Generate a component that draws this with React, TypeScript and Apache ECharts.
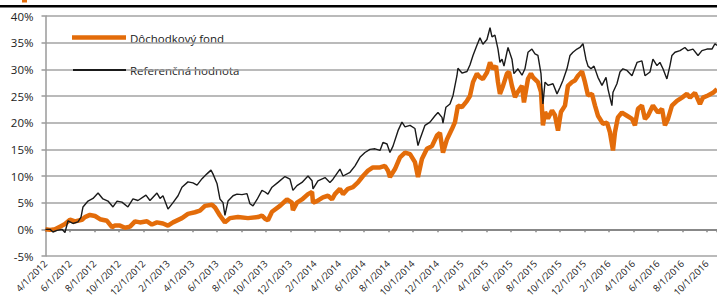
import React, { useEffect, useRef } from "react";
import * as echarts from "echarts";

// x = months since 4/1/2012, y = cumulative return in %
const fundMonths = [0, 0.37, 0.78, 1.18, 1.59, 2.0, 2.41, 2.98, 3.22, 3.63, 4.04, 4.45, 5.02, 5.43, 5.67, 6.08, 6.49, 6.9, 7.31, 7.71, 8.29, 8.69, 9.1, 9.59, 10.0, 10.41, 11.14, 11.63, 12.2, 12.61, 13.02, 13.59, 13.84, 14.24, 14.65, 15.06, 15.71, 16.53, 17.35, 17.67, 17.92, 18.16, 18.49, 19.14, 19.71, 20.12, 20.2, 20.53, 20.94, 21.43, 21.76, 21.84, 22.16, 22.65, 23.06, 23.39, 23.63, 24.04, 24.29, 24.69, 25.1, 25.51, 25.92, 26.33, 26.73, 27.31, 27.71, 27.96, 28.12, 28.53, 28.94, 29.35, 29.76, 30.16, 30.41, 30.73, 31.14, 31.55, 31.96, 32.2, 32.45, 32.78, 33.18, 33.43, 33.67, 34.0, 34.41, 34.65, 34.9, 35.22, 35.47, 35.71, 36.04, 36.29, 36.53, 36.78, 36.94, 37.1, 37.35, 37.67, 37.84, 38.08, 38.33, 38.57, 38.9, 39.06, 39.39, 39.63, 39.8, 40.2, 40.45, 40.61, 40.78, 41.02, 41.35, 41.59, 41.84, 42.08, 42.41, 42.65, 42.98, 43.22, 43.47, 43.8, 44.04, 44.29, 44.61, 44.86, 45.1, 45.51, 45.84, 46.08, 46.33, 46.49, 46.73, 47.06, 47.47, 47.88, 48.12, 48.37, 48.69, 48.94, 49.18, 49.59, 50.0, 50.33, 50.57, 50.82, 51.14, 51.55, 51.96, 52.37, 52.61, 53.02, 53.43, 53.67, 54.08, 54.49, 54.82];
const fundValues = [0, -0.1, 0, 0.5, 1.0, 1.8, 1.5, 1.8, 2.3, 2.7, 2.5, 1.9, 1.6, 0.4, 0.7, 0.7, 0.3, 0.5, 1.5, 1.3, 1.5, 0.9, 1.3, 1.1, 0.7, 1.3, 2.1, 2.9, 3.2, 3.5, 4.4, 4.6, 4.1, 2.6, 1.3, 2.1, 2.3, 2.1, 2.3, 2.6, 2.0, 1.7, 3.3, 4.4, 5.6, 5.0, 3.6, 5.0, 5.6, 6.6, 7.0, 5.0, 5.3, 6.0, 6.3, 5.6, 6.6, 7.6, 6.6, 7.6, 7.9, 8.8, 10.0, 11.0, 11.6, 11.6, 11.9, 11.0, 9.8, 11.3, 13.5, 14.4, 14.1, 12.6, 9.8, 13.2, 15.1, 15.6, 17.6, 18.1, 14.4, 16.9, 18.8, 20.1, 23.2, 22.9, 24.1, 25.0, 27.6, 29.2, 28.5, 28.2, 29.4, 31.3, 30.1, 30.6, 27.6, 25.4, 26.9, 29.2, 29.5, 26.9, 24.8, 25.8, 26.9, 23.8, 28.2, 29.2, 28.5, 27.6, 25.8, 19.5, 22.0, 20.8, 22.3, 21.4, 18.5, 22.0, 23.2, 26.9, 27.6, 27.9, 28.8, 29.6, 27.6, 25.1, 25.4, 23.2, 21.3, 19.8, 20.0, 18.2, 14.8, 18.2, 21.0, 21.9, 21.3, 20.7, 19.5, 22.6, 23.2, 20.7, 21.3, 23.2, 21.9, 22.6, 19.5, 20.7, 23.2, 24.1, 24.7, 25.4, 24.7, 25.6, 23.5, 24.7, 25.1, 25.6, 26.3];

const benchMonths = [0, 0.37, 0.61, 0.94, 1.35, 1.59, 1.84, 2.24, 2.65, 2.9, 3.06, 3.47, 3.88, 4.29, 4.69, 5.1, 5.51, 5.84, 6.24, 6.73, 7.14, 7.55, 8.2, 8.53, 9.1, 9.35, 9.59, 10.0, 10.41, 10.82, 11.14, 11.63, 12.04, 12.37, 12.78, 13.18, 13.51, 13.67, 14.0, 14.24, 14.49, 14.65, 14.9, 15.31, 15.63, 16.04, 16.45, 16.69, 16.94, 17.27, 17.67, 17.92, 18.16, 18.49, 18.98, 19.55, 19.96, 20.2, 20.53, 20.94, 21.43, 21.76, 21.84, 22.24, 22.82, 23.22, 23.47, 24.04, 24.29, 24.86, 25.27, 25.67, 26.08, 26.49, 26.9, 27.31, 27.55, 27.88, 28.12, 28.37, 28.78, 29.1, 29.35, 29.76, 30.16, 30.41, 30.57, 30.98, 31.39, 31.8, 32.04, 32.37, 32.45, 32.69, 33.02, 33.27, 33.59, 33.67, 34.0, 34.41, 34.65, 34.9, 35.22, 35.47, 35.71, 36.04, 36.29, 36.45, 36.69, 36.94, 37.1, 37.27, 37.43, 37.67, 37.76, 38.08, 38.24, 38.57, 38.9, 39.14, 39.39, 39.71, 39.96, 40.2, 40.45, 40.61, 40.78, 41.02, 41.43, 41.76, 42.0, 42.24, 42.57, 42.82, 43.06, 43.39, 43.63, 43.88, 44.12, 44.29, 44.53, 44.78, 45.1, 45.43, 45.76, 45.92, 46.24, 46.33, 46.65, 46.9, 47.14, 47.47, 47.88, 48.29, 48.69, 48.94, 49.35, 49.59, 49.92, 50.16, 50.41, 50.73, 50.98, 51.14, 51.39, 51.8, 52.2, 52.45, 52.86, 53.27, 53.59, 54.0, 54.41, 54.65, 54.82];
const benchValues = [0, 0, -0.5, -0.2, 0, -0.6, 1.6, 1.1, 1.4, 2.3, 4.2, 5.3, 5.8, 6.8, 5.7, 5.3, 4.2, 5.3, 5.1, 4.2, 5.7, 5.4, 6.4, 5.4, 6.8, 5.8, 6.3, 3.8, 5.0, 6.3, 7.9, 8.9, 8.7, 8.3, 9.5, 10.4, 11.1, 10.4, 8.6, 5.7, 5.0, 2.6, 5.3, 6.3, 6.6, 6.5, 6.7, 4.8, 4.4, 5.6, 7.3, 7.0, 6.6, 7.9, 8.8, 9.9, 9.4, 7.3, 8.2, 8.8, 10.0, 9.1, 7.6, 9.1, 9.7, 8.8, 9.4, 11.3, 10.0, 10.7, 11.9, 13.5, 14.4, 15.0, 15.1, 14.8, 16.3, 16.0, 14.4, 15.6, 18.5, 20.1, 19.2, 19.5, 18.9, 15.7, 16.9, 19.5, 20.1, 21.3, 21.9, 21.0, 19.9, 22.9, 23.5, 25.1, 28.8, 30.2, 29.3, 29.6, 30.8, 32.6, 34.5, 35.9, 34.7, 35.6, 37.8, 36.1, 36.4, 33.8, 31.3, 31.9, 30.6, 33.2, 34.1, 31.9, 29.2, 30.1, 28.9, 30.1, 33.2, 33.8, 32.9, 32.6, 29.2, 23.5, 27.6, 27.0, 27.3, 25.4, 26.6, 27.9, 30.1, 32.6, 33.2, 33.8, 34.1, 34.8, 31.9, 30.6, 30.1, 30.6, 28.5, 27.0, 28.5, 26.3, 23.2, 25.7, 27.3, 29.5, 30.1, 29.8, 28.8, 31.3, 31.6, 28.8, 29.5, 31.9, 30.7, 31.3, 30.1, 28.2, 30.7, 32.6, 33.2, 33.5, 34.1, 33.5, 33.8, 32.6, 33.5, 33.8, 33.8, 34.8, 34.5];

const xTickLabels = ["4/1/2012", "6/1/2012", "8/1/2012", "10/1/2012", "12/1/2012", "2/1/2013", "4/1/2013", "6/1/2013", "8/1/2013", "10/1/2013", "12/1/2013", "2/1/2014", "4/1/2014", "6/1/2014", "8/1/2014", "10/1/2014", "12/1/2014", "2/1/2015", "4/1/2015", "6/1/2015", "8/1/2015", "10/1/2015", "12/1/2015", "2/1/2016", "4/1/2016", "6/1/2016", "8/1/2016", "10/1/2016"];

const seriesNames = ["Dôchodkový fond", "Referenčná hodnota"];

const FONT = "Open Sans";
const ORANGE = "#E36C0A";
const DARK = "#1a1a1a";

export default function App() {
  const ref = useRef<HTMLDivElement>(null);
  useEffect(() => {
    if (!ref.current) return;
    const chart = echarts.init(ref.current, undefined, { renderer: "svg" });
    const fundData = fundMonths.map((m, i) => [m, fundValues[i]]);
    const benchData = benchMonths.map((m, i) => [m, benchValues[i]]);
    const labelFor = (v: number) => {
      const r = Math.round(v);
      if (Math.abs(v - r) > 1e-6 || r % 2 !== 0) return "";
      return xTickLabels[r / 2] ?? "";
    };
    const legendText = (y: number, text: string) => ({
      type: "text",
      x: 130,
      y,
      style: { text, fontFamily: FONT, fontSize: 11.5, fill: DARK, textVerticalAlign: "middle", verticalAlign: "middle" },
    });
    chart.setOption({
      animation: false,
      grid: { left: 45.5, right: 0, top: 16, bottom: 48, outerBoundsMode: "none" },
      xAxis: [
        {
          type: "value",
          min: 0,
          max: 54.82,
          interval: 2,
          axisLine: { show: true, onZero: true, lineStyle: { color: "#888888", width: 2 } },
          axisTick: { show: true, length: 3, inside: false, lineStyle: { color: "#888888", width: 1.5 } },
          axisLabel: { show: false },
          splitLine: { show: false },
        },
        {
          type: "value",
          position: "bottom",
          min: 0,
          max: 54.82,
          interval: 2,
          axisLine: { show: false, onZero: false },
          axisTick: { show: false },
          splitLine: { show: false },
          axisLabel: {
            show: true,
            rotate: 45,
            margin: 6,
            fontFamily: FONT,
            fontSize: 9.5,
            color: "#222222",
            showMaxLabel: false,
            formatter: labelFor,
          },
        },
      ],
      yAxis: {
        type: "value",
        min: -5,
        max: 40,
        interval: 5,
        axisLine: { show: true, lineStyle: { color: "#9a9a9a", width: 1.5 } },
        axisTick: { show: true, length: 4, lineStyle: { color: "#9a9a9a", width: 1.5 } },
        splitLine: { show: true, lineStyle: { color: "#a3a3a3", width: 1.5 } },
        axisLabel: {
          margin: 12,
          fontFamily: FONT,
          fontSize: 11.5,
          color: "#222222",
          formatter: (v: number) => `${v}%`,
        },
      },
      graphic: [
        { type: "rect", left: 0, top: 5, shape: { width: 717, height: 2.5 }, style: { fill: "#000000" } },
        { type: "rect", left: 22, top: 0, shape: { width: 5, height: 2.5 }, style: { fill: ORANGE } },
        { type: "line", shape: { x1: 72, y1: 37.5, x2: 126, y2: 37.5 }, style: { stroke: ORANGE, lineWidth: 4.5 }, z: 10 },
        legendText(38, seriesNames[0]),
        { type: "line", shape: { x1: 73, y1: 70, x2: 126, y2: 70 }, style: { stroke: DARK, lineWidth: 1.8 }, z: 10 },
        legendText(70, seriesNames[1]),
      ],
      series: [
        {
          name: seriesNames[0],
          type: "line",
          xAxisIndex: 0,
          data: fundData,
          symbol: "none",
          showSymbol: false,
          lineStyle: { color: ORANGE, width: 4.5 },
          itemStyle: { color: ORANGE },
          z: 2,
        },
        {
          name: seriesNames[1],
          type: "line",
          xAxisIndex: 0,
          data: benchData,
          symbol: "none",
          showSymbol: false,
          lineStyle: { color: DARK, width: 1.4 },
          itemStyle: { color: DARK },
          z: 3,
        },
      ],
    });
    return () => chart.dispose();
  }, []);
  return (
    <div
      ref={ref}
      style={{ position: "absolute", left: 0, top: 0, width: 717, height: 304 }}
    />
  );
}
